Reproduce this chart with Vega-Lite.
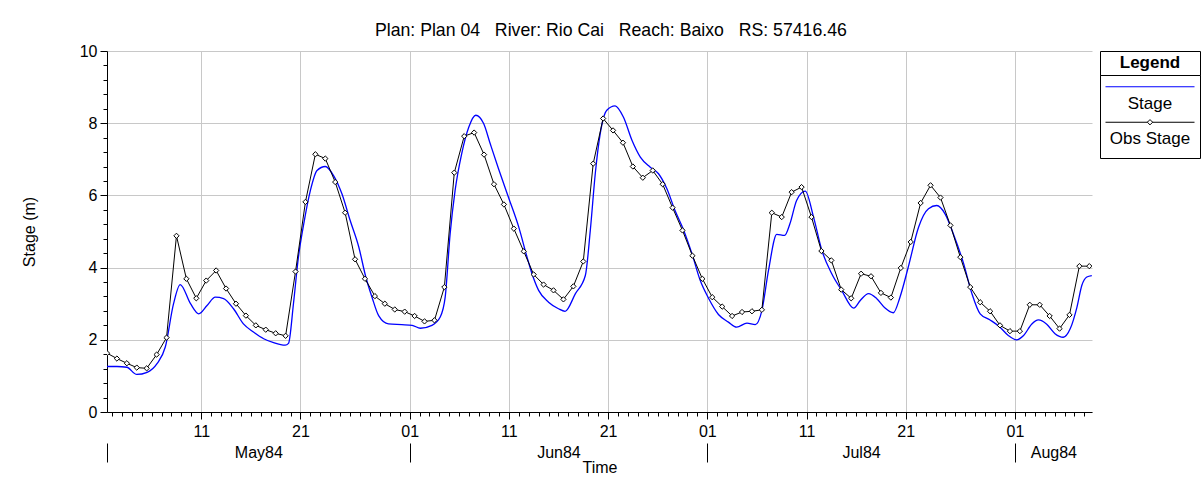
{
  "$schema": "https://vega.github.io/schema/vega-lite/v6.json",
  "autosize": {"type": "pad"},
  "padding": {"left": 21, "top": 22, "right": 2, "bottom": 0},
  "background": "white",
  "title": {
    "text": "Plan: Plan 04\u00a0\u00a0 River: Rio Cai\u00a0\u00a0 Reach: Baixo\u00a0\u00a0 RS: 57416.46",
    "fontSize": 17.7,
    "fontWeight": "normal",
    "font": "Liberation Sans",
    "color": "black",
    "anchor": "middle",
    "dx": 0,
    "offset": 3
  },
  "bounds": "flush",
  "spacing": 8,
  "datasets": {
    "sim": [
      {"t": "1984-05-01T12:00", "v": 1.26}, {"t": "1984-05-02T12:00", "v": 1.26}, {"t": "1984-05-03T12:00", "v": 1.24},
      {"t": "1984-05-04T12:00", "v": 1.04}, {"t": "1984-05-05T13:00", "v": 1.10}, {"t": "1984-05-06T13:00", "v": 1.34},
      {"t": "1984-05-07T09:00", "v": 1.80}, {"t": "1984-05-08T05:00", "v": 3.00}, {"t": "1984-05-08T21:00", "v": 3.53},
      {"t": "1984-05-09T22:00", "v": 3.00}, {"t": "1984-05-10T18:00", "v": 2.72}, {"t": "1984-05-11T14:00", "v": 2.95},
      {"t": "1984-05-12T10:00", "v": 3.18}, {"t": "1984-05-13T06:00", "v": 3.14}, {"t": "1984-05-14T06:00", "v": 2.86},
      {"t": "1984-05-15T06:00", "v": 2.44}, {"t": "1984-05-16T07:00", "v": 2.21}, {"t": "1984-05-17T07:00", "v": 2.03},
      {"t": "1984-05-18T07:00", "v": 1.92}, {"t": "1984-05-19T11:00", "v": 1.85}, {"t": "1984-05-19T19:00", "v": 1.90},
      {"t": "1984-05-20T07:00", "v": 3.00}, {"t": "1984-05-20T19:00", "v": 4.29}, {"t": "1984-05-21T08:00", "v": 5.22},
      {"t": "1984-05-22T00:00", "v": 6.14}, {"t": "1984-05-22T16:00", "v": 6.69}, {"t": "1984-05-23T12:00", "v": 6.80},
      {"t": "1984-05-24T08:00", "v": 6.55}, {"t": "1984-05-25T04:00", "v": 6.05}, {"t": "1984-05-26T00:00", "v": 5.31},
      {"t": "1984-05-26T21:00", "v": 4.57}, {"t": "1984-05-27T14:00", "v": 3.74}, {"t": "1984-05-28T05:00", "v": 3.18},
      {"t": "1984-05-28T21:00", "v": 2.67}, {"t": "1984-05-29T21:00", "v": 2.44}, {"t": "1984-05-31T05:00", "v": 2.42},
      {"t": "1984-06-01T06:00", "v": 2.40}, {"t": "1984-06-02T02:00", "v": 2.32}, {"t": "1984-06-03T06:00", "v": 2.40},
      {"t": "1984-06-04T02:00", "v": 2.63}, {"t": "1984-06-04T14:00", "v": 3.18}, {"t": "1984-06-05T02:00", "v": 4.94},
      {"t": "1984-06-05T14:00", "v": 6.14}, {"t": "1984-06-06T06:00", "v": 7.16}, {"t": "1984-06-06T23:00", "v": 7.89},
      {"t": "1984-06-07T16:00", "v": 8.22}, {"t": "1984-06-08T11:00", "v": 7.99}, {"t": "1984-06-09T03:00", "v": 7.43},
      {"t": "1984-06-09T23:00", "v": 6.74}, {"t": "1984-06-10T23:00", "v": 5.95}, {"t": "1984-06-12T00:00", "v": 5.12},
      {"t": "1984-06-12T20:00", "v": 4.29}, {"t": "1984-06-13T08:00", "v": 3.83}, {"t": "1984-06-14T00:00", "v": 3.37},
      {"t": "1984-06-15T00:00", "v": 3.04}, {"t": "1984-06-16T00:00", "v": 2.86}, {"t": "1984-06-16T16:00", "v": 2.79},
      {"t": "1984-06-17T17:00", "v": 3.28}, {"t": "1984-06-18T17:00", "v": 3.78}, {"t": "1984-06-19T05:00", "v": 5.03},
      {"t": "1984-06-19T17:00", "v": 6.60}, {"t": "1984-06-20T05:00", "v": 7.71}, {"t": "1984-06-20T21:00", "v": 8.36},
      {"t": "1984-06-21T17:00", "v": 8.48}, {"t": "1984-06-22T13:00", "v": 8.17}, {"t": "1984-06-23T10:00", "v": 7.52},
      {"t": "1984-06-24T06:00", "v": 7.06}, {"t": "1984-06-25T06:00", "v": 6.78}, {"t": "1984-06-26T02:00", "v": 6.60},
      {"t": "1984-06-26T22:00", "v": 6.19}, {"t": "1984-06-27T18:00", "v": 5.58}, {"t": "1984-06-28T15:00", "v": 5.03},
      {"t": "1984-06-29T11:00", "v": 4.38}, {"t": "1984-06-30T07:00", "v": 3.64}, {"t": "1984-07-01T03:00", "v": 3.15},
      {"t": "1984-07-02T03:00", "v": 2.70}, {"t": "1984-07-03T03:00", "v": 2.49}, {"t": "1984-07-03T23:00", "v": 2.35},
      {"t": "1984-07-05T00:00", "v": 2.46}, {"t": "1984-07-05T20:00", "v": 2.42}, {"t": "1984-07-06T12:00", "v": 2.81},
      {"t": "1984-07-07T04:00", "v": 3.92}, {"t": "1984-07-08T00:00", "v": 4.92}, {"t": "1984-07-08T19:00", "v": 4.89},
      {"t": "1984-07-09T08:00", "v": 5.22}, {"t": "1984-07-10T00:00", "v": 5.86}, {"t": "1984-07-10T21:00", "v": 6.12},
      {"t": "1984-07-11T17:00", "v": 5.40}, {"t": "1984-07-12T13:00", "v": 4.48}, {"t": "1984-07-13T13:00", "v": 3.83},
      {"t": "1984-07-14T13:00", "v": 3.37}, {"t": "1984-07-15T18:00", "v": 2.88}, {"t": "1984-07-16T10:00", "v": 3.09},
      {"t": "1984-07-17T06:00", "v": 3.28}, {"t": "1984-07-18T02:00", "v": 3.14}, {"t": "1984-07-18T22:00", "v": 2.88},
      {"t": "1984-07-19T18:00", "v": 2.75}, {"t": "1984-07-20T10:00", "v": 3.18}, {"t": "1984-07-21T06:00", "v": 4.01},
      {"t": "1984-07-22T07:00", "v": 5.12}, {"t": "1984-07-23T07:00", "v": 5.63}, {"t": "1984-07-24T03:00", "v": 5.72},
      {"t": "1984-07-24T23:00", "v": 5.49}, {"t": "1984-07-25T19:00", "v": 4.94}, {"t": "1984-07-26T20:00", "v": 4.11},
      {"t": "1984-07-27T16:00", "v": 3.28}, {"t": "1984-07-28T12:00", "v": 2.72}, {"t": "1984-07-29T12:00", "v": 2.55},
      {"t": "1984-07-30T12:00", "v": 2.35}, {"t": "1984-07-31T08:00", "v": 2.12}, {"t": "1984-08-01T04:00", "v": 2.00},
      {"t": "1984-08-01T21:00", "v": 2.12}, {"t": "1984-08-02T17:00", "v": 2.44}, {"t": "1984-08-03T09:00", "v": 2.55},
      {"t": "1984-08-04T05:00", "v": 2.43}, {"t": "1984-08-05T01:00", "v": 2.17}, {"t": "1984-08-05T21:00", "v": 2.07},
      {"t": "1984-08-06T14:00", "v": 2.31}, {"t": "1984-08-07T06:00", "v": 2.90}, {"t": "1984-08-07T18:00", "v": 3.51},
      {"t": "1984-08-08T06:00", "v": 3.74}, {"t": "1984-08-08T18:00", "v": 3.78}
    ],
    "obs": [
      {"t": "1984-05-01T12:00", "v": 1.63}, {"t": "1984-05-02T12:00", "v": 1.48}, {"t": "1984-05-03T12:00", "v": 1.35},
      {"t": "1984-05-04T12:00", "v": 1.23}, {"t": "1984-05-05T12:00", "v": 1.21}, {"t": "1984-05-06T12:00", "v": 1.59},
      {"t": "1984-05-07T12:00", "v": 2.06}, {"t": "1984-05-08T12:00", "v": 4.88}, {"t": "1984-05-09T12:00", "v": 3.69},
      {"t": "1984-05-10T12:00", "v": 3.15}, {"t": "1984-05-11T12:00", "v": 3.64}, {"t": "1984-05-12T12:00", "v": 3.92},
      {"t": "1984-05-13T12:00", "v": 3.42}, {"t": "1984-05-14T12:00", "v": 3.00}, {"t": "1984-05-15T12:00", "v": 2.67},
      {"t": "1984-05-16T12:00", "v": 2.40}, {"t": "1984-05-17T12:00", "v": 2.28}, {"t": "1984-05-18T12:00", "v": 2.18},
      {"t": "1984-05-19T12:00", "v": 2.11}, {"t": "1984-05-20T12:00", "v": 3.89}, {"t": "1984-05-21T12:00", "v": 5.82},
      {"t": "1984-05-22T12:00", "v": 7.14}, {"t": "1984-05-23T12:00", "v": 7.02}, {"t": "1984-05-24T12:00", "v": 6.37},
      {"t": "1984-05-25T12:00", "v": 5.52}, {"t": "1984-05-26T12:00", "v": 4.23}, {"t": "1984-05-27T12:00", "v": 3.69},
      {"t": "1984-05-28T12:00", "v": 3.21}, {"t": "1984-05-29T12:00", "v": 3.00}, {"t": "1984-05-30T12:00", "v": 2.84},
      {"t": "1984-05-31T12:00", "v": 2.78},
      {"t": "1984-06-01T12:00", "v": 2.66}, {"t": "1984-06-02T12:00", "v": 2.51}, {"t": "1984-06-03T12:00", "v": 2.54},
      {"t": "1984-06-04T12:00", "v": 3.46}, {"t": "1984-06-05T12:00", "v": 6.63}, {"t": "1984-06-06T12:00", "v": 7.64},
      {"t": "1984-06-07T12:00", "v": 7.74}, {"t": "1984-06-08T12:00", "v": 7.13}, {"t": "1984-06-09T12:00", "v": 6.31},
      {"t": "1984-06-10T12:00", "v": 5.75}, {"t": "1984-06-11T12:00", "v": 5.08}, {"t": "1984-06-12T12:00", "v": 4.45},
      {"t": "1984-06-13T12:00", "v": 3.81}, {"t": "1984-06-14T12:00", "v": 3.53}, {"t": "1984-06-15T12:00", "v": 3.37},
      {"t": "1984-06-16T12:00", "v": 3.12}, {"t": "1984-06-17T12:00", "v": 3.48}, {"t": "1984-06-18T12:00", "v": 4.17},
      {"t": "1984-06-19T12:00", "v": 6.88}, {"t": "1984-06-20T12:00", "v": 8.13}, {"t": "1984-06-21T12:00", "v": 7.80},
      {"t": "1984-06-22T12:00", "v": 7.46}, {"t": "1984-06-23T12:00", "v": 6.80}, {"t": "1984-06-24T12:00", "v": 6.49},
      {"t": "1984-06-25T12:00", "v": 6.69}, {"t": "1984-06-26T12:00", "v": 6.31}, {"t": "1984-06-27T12:00", "v": 5.66},
      {"t": "1984-06-28T12:00", "v": 5.03}, {"t": "1984-06-29T12:00", "v": 4.33}, {"t": "1984-06-30T12:00", "v": 3.69},
      {"t": "1984-07-01T12:00", "v": 3.18}, {"t": "1984-07-02T12:00", "v": 2.92}, {"t": "1984-07-03T12:00", "v": 2.66},
      {"t": "1984-07-04T12:00", "v": 2.77}, {"t": "1984-07-05T12:00", "v": 2.79}, {"t": "1984-07-06T12:00", "v": 2.83},
      {"t": "1984-07-07T12:00", "v": 5.52}, {"t": "1984-07-08T12:00", "v": 5.40}, {"t": "1984-07-09T12:00", "v": 6.09},
      {"t": "1984-07-10T12:00", "v": 6.23}, {"t": "1984-07-11T12:00", "v": 5.40}, {"t": "1984-07-12T12:00", "v": 4.46},
      {"t": "1984-07-13T12:00", "v": 4.20}, {"t": "1984-07-14T12:00", "v": 3.39}, {"t": "1984-07-15T12:00", "v": 3.15},
      {"t": "1984-07-16T12:00", "v": 3.83}, {"t": "1984-07-17T12:00", "v": 3.76}, {"t": "1984-07-18T12:00", "v": 3.30},
      {"t": "1984-07-19T12:00", "v": 3.17}, {"t": "1984-07-20T12:00", "v": 3.99}, {"t": "1984-07-21T12:00", "v": 4.71},
      {"t": "1984-07-22T12:00", "v": 5.79}, {"t": "1984-07-23T12:00", "v": 6.28}, {"t": "1984-07-24T12:00", "v": 5.94},
      {"t": "1984-07-25T12:00", "v": 5.17}, {"t": "1984-07-26T12:00", "v": 4.29}, {"t": "1984-07-27T12:00", "v": 3.46},
      {"t": "1984-07-28T12:00", "v": 3.04}, {"t": "1984-07-29T12:00", "v": 2.79}, {"t": "1984-07-30T12:00", "v": 2.40},
      {"t": "1984-07-31T12:00", "v": 2.24},
      {"t": "1984-08-01T12:00", "v": 2.24}, {"t": "1984-08-02T12:00", "v": 2.97}, {"t": "1984-08-03T12:00", "v": 2.97},
      {"t": "1984-08-04T12:00", "v": 2.66}, {"t": "1984-08-05T12:00", "v": 2.31}, {"t": "1984-08-06T12:00", "v": 2.69},
      {"t": "1984-08-07T12:00", "v": 4.04}, {"t": "1984-08-08T12:00", "v": 4.04}
    ]
  },
  "hconcat": [
    {
      "width": 985,
      "height": 361,
      "view": {"stroke": null},
      "resolve": {"axis": {"x": "independent", "y": "independent"}},
      "layer": [
        {
          "data": {"name": "sim"},
          "mark": {"type": "line", "color": "#0000ff", "strokeWidth": 1.3, "interpolate": "monotone", "clip": true},
          "encoding": {
            "x": {
              "field": "t", "type": "temporal",
              "scale": {"domain": [{"year": 1984, "month": 5, "date": 1, "hours": 12}, {"year": 1984, "month": 8, "date": 8, "hours": 18, "minutes": 30}]},
              "axis": {
                "orient": "bottom",
                "title": null,
                "tickCount": {"interval": "day", "step": 1},
                "format": "%d",
                "labelExpr": "(date(datum.value) == 1 || date(datum.value) == 11 || date(datum.value) == 21) ? datum.label : ''",
                "labelOverlap": false, "labelFlush": false, "labelBound": false,
                "labelFontSize": 16, "labelColor": "black", "labelPadding": 4,
                "ticks": true,
                "tickSize": {"condition": {"test": "date(datum.value) == 1 || date(datum.value) == 11 || date(datum.value) == 21", "value": 7}, "value": 4},
                "tickColor": "black",
                "domainColor": "black",
                "grid": true,
                "gridColor": "#c8c8c8",
                "gridOpacity": {"condition": {"test": "date(datum.value) == 1 || date(datum.value) == 11 || date(datum.value) == 21", "value": 1}, "value": 0}
              }
            },
            "y": {
              "field": "v", "type": "quantitative",
              "scale": {"domain": [0, 10], "nice": false, "zero": true},
              "axis": {
                "orient": "left",
                "values": [0, 2, 4, 6, 8, 10],
                "format": "d",
                "labelOverlap": false, "labelFlush": false, "labelBound": false,
                "labelFontSize": 16, "labelColor": "black", "labelPadding": 3,
                "tickSize": 7,
                "tickColor": "black",
                "domainColor": "black",
                "grid": true,
                "gridColor": "#c8c8c8",
                "title": "Stage (m)",
                "titleFontSize": 16, "titleFontWeight": "normal", "titleColor": "black",
                "titlePadding": 42
              }
            }
          }
        },
        {
          "data": {"name": "obs"},
          "mark": {"type": "line", "color": "#000000", "strokeWidth": 1, "clip": true},
          "encoding": {
            "x": {
              "field": "t", "type": "temporal",
              "axis": {
                "orient": "bottom",
                "title": null,
                "values": [
                  {"year": 1984, "month": 5, "date": 16, "hours": 18},
                  {"year": 1984, "month": 6, "date": 16},
                  {"year": 1984, "month": 7, "date": 16, "hours": 12},
                  {"year": 1984, "month": 8, "date": 4, "hours": 21}
                ],
                "format": "%b%y",
                "ticks": false, "domain": false, "grid": false,
                "offset": 31, "labelPadding": 1,
                "labelFontSize": 16, "labelColor": "black",
                "labelOverlap": false, "labelFlush": false, "labelBound": false
              }
            },
            "y": {
              "field": "v", "type": "quantitative",
              "axis": {
                "orient": "left",
                "values": [0.4, 0.8, 1.2, 1.6, 2.4, 2.8, 3.2, 3.6, 4.4, 4.8, 5.2, 5.6, 6.4, 6.8, 7.2, 7.6, 8.4, 8.8, 9.2, 9.6],
                "labels": false, "domain": false, "grid": false,
                "ticks": true, "tickSize": 4, "tickColor": "black",
                "title": null
              }
            }
          }
        },
        {
          "data": {"name": "obs"},
          "mark": {"type": "point", "shape": "diamond", "size": 28, "filled": true, "fill": "white", "stroke": "black", "strokeWidth": 1, "opacity": 1, "clip": true},
          "encoding": {
            "x": {
              "field": "t", "type": "temporal",
              "axis": {
                "orient": "bottom",
                "values": [
                  {"year": 1984, "month": 5, "date": 1, "hours": 12},
                  {"year": 1984, "month": 6, "date": 1},
                  {"year": 1984, "month": 7, "date": 1},
                  {"year": 1984, "month": 8, "date": 1}
                ],
                "labels": false, "domain": false, "grid": false,
                "ticks": true, "tickSize": 19, "tickColor": "black", "tickWidth": 1,
                "offset": 31,
                "title": "Time", "titleFontSize": 16, "titleFontWeight": "normal", "titleColor": "black", "titlePadding": -3
              }
            },
            "y": {"field": "v", "type": "quantitative", "axis": null}
          }
        }
      ]
    },
    {
      "spacing": 0,
      "bounds": "flush",
      "vconcat": [
        {
          "width": 100,
          "height": 24,
          "view": {"stroke": "black", "strokeWidth": 1},
          "data": {"values": [{"label": "Legend"}]},
          "mark": {"type": "text", "fontSize": 17, "fontWeight": "bold", "font": "Liberation Sans", "color": "black", "baseline": "middle", "align": "center"},
          "encoding": {"text": {"field": "label", "type": "nominal"}}
        },
        {
          "width": 100,
          "height": 83,
          "view": {"stroke": "black", "strokeWidth": 1},
          "data": {"values": [{"series": "Stage"}, {"series": "Obs Stage"}]},
          "encoding": {
            "y": {"field": "series", "type": "nominal", "scale": {"type": "point", "domain": ["Stage", "Obs Stage"], "padding": 0.67}, "axis": null}
          },
          "layer": [
            {
              "mark": {"type": "tick", "orient": "horizontal", "size": 89, "thickness": 1, "yOffset": -12, "opacity": 1},
              "encoding": {
                "color": {"field": "series", "type": "nominal", "scale": {"domain": ["Stage", "Obs Stage"], "range": ["#0000ff", "#000000"]}, "legend": null}
              }
            },
            {
              "transform": [{"filter": "datum.series == 'Obs Stage'"}],
              "mark": {"type": "point", "shape": "diamond", "size": 28, "filled": true, "fill": "white", "stroke": "black", "strokeWidth": 1, "opacity": 1, "yOffset": -12}
            },
            {
              "mark": {"type": "text", "fontSize": 17, "font": "Liberation Sans", "color": "black", "baseline": "middle", "align": "center", "yOffset": 5},
              "encoding": {"text": {"field": "series", "type": "nominal"}}
            }
          ]
        }
      ]
    }
  ],
  "config": {
    "font": "Liberation Sans",
    "view": {"stroke": null},
    "axis": {"labelFont": "Liberation Sans", "titleFont": "Liberation Sans"}
  }
}
